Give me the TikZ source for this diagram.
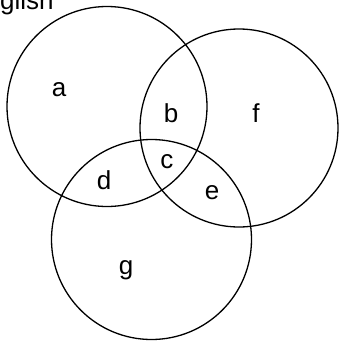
\documentclass[tikz,border=0pt]{standalone}
\usepackage{fontspec}
\setmainfont{Liberation Sans}
\begin{document}
\begin{tikzpicture}[x=1pt,y=-1pt,
  venn/.style={draw=black,line width=1.3pt},
  lbl/.style={font=\fontsize{26}{30}\selectfont,inner sep=0pt}]
\useasboundingbox (0,0) rectangle (339,341);
\clip (0,0) rectangle (339,341);
\node[lbl,anchor=base west] (title) at (-31.8,9) {English};
\draw[venn] (107,106.5) circle[radius=100] coordinate (A);
\draw[venn] (239,128) circle[radius=99] coordinate (F);
\draw[venn] (151.5,239.5) circle[radius=100] coordinate (G);
\node[lbl] (a) at (59,90) {a};
\node[lbl] (b) at (171,113) {b};
\node[lbl] (f) at (256,113) {f};
\node[lbl] (c) at (167,162) {c};
\node[lbl] (d) at (104,180) {d};
\node[lbl] (e) at (212,193) {e};
\node[lbl] (g) at (126,270) {g};
\end{tikzpicture}
\end{document}
